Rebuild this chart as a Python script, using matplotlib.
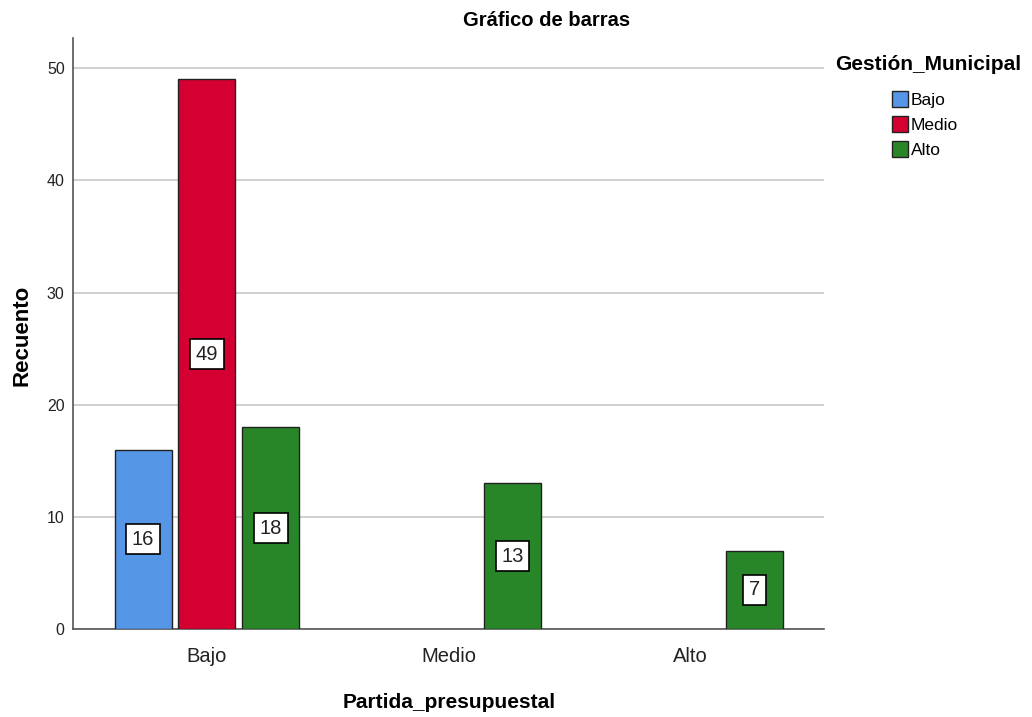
import numpy as np
import matplotlib.pyplot as plt
from matplotlib.patches import Patch

plt.rcParams['font.family'] = ['Liberation Sans', 'DejaVu Sans']

# datos
categorias = ['Bajo', 'Medio', 'Alto']
series = ['Bajo', 'Medio', 'Alto']
bajo = [16, 0, 0]
medio = [49, 0, 0]
alto = [18, 13, 7]
colores = ['#5596e6', '#d50032', '#288629']

fig = plt.figure(figsize=(10.32, 7.17), dpi=100)
ax = fig.add_axes([0.0707, 0.1227, 0.7273, 0.8243])

x = np.arange(len(categorias))
ancho = 0.236
desp = 0.264
for i, (vals, col) in enumerate(zip([bajo, medio, alto], colores)):
    pos = x + (i - 1) * desp
    for p, v in zip(pos, vals):
        if v == 0:
            continue
        ax.bar(p, v, width=ancho, color=col, edgecolor='#222222', linewidth=1, zorder=3)
        ax.text(p, v / 2, str(v), ha='center', va='center', fontsize=14.5, zorder=4,
                color='#222222',
                bbox=dict(boxstyle='square,pad=0.28', fc='white', ec='black', lw=1.2))

ax.set_xlim(-0.554, 2.55)
ax.set_ylim(0, 52.7)
ax.set_xticks(x)
ax.set_xticklabels(categorias, fontsize=14.5, color='#222222')
ax.set_yticks([0, 10, 20, 30, 40, 50])
ax.tick_params(axis='y', labelsize=11.5, length=0, pad=6, labelcolor='#222222')
ax.tick_params(axis='x', length=0, pad=13)
ax.yaxis.grid(True, color='#c8c8c8', linewidth=1.2, zorder=0)
ax.set_axisbelow(True)
for s in ['top', 'right']:
    ax.spines[s].set_visible(False)
for s in ['left', 'bottom']:
    ax.spines[s].set_color('#555555')
    ax.spines[s].set_linewidth(1.2)

fig.text(22 / 1032, 1 - 335 / 717, 'Recuento', rotation=90, ha='center', va='center',
         fontsize=16, fontweight='bold')
fig.text(449 / 1032, 1 - 702 / 717, 'Partida_presupuestal', ha='center', va='center',
         fontsize=15, fontweight='bold')
fig.text(547 / 1032, 1 - 21 / 717, 'Gráfico de barras', ha='center', va='center',
         fontsize=14.5, fontweight='bold')
fig.text(835 / 1032, 1 - 64 / 717, 'Gestión_Municipal', ha='left', va='center',
         fontsize=15, fontweight='bold')

handles = [Patch(facecolor=c, edgecolor='#222222', label=s) for s, c in zip(series, colores)]
fig.legend(handles=handles, loc='upper left', bbox_to_anchor=(892 / 1032, 1 - 91 / 717),
           frameon=False, fontsize=12.5, handlelength=0.95, handleheight=1.05,
           handletextpad=0.12, labelspacing=0.45, borderpad=0, borderaxespad=0)

fig.savefig('out.png', dpi=100)
